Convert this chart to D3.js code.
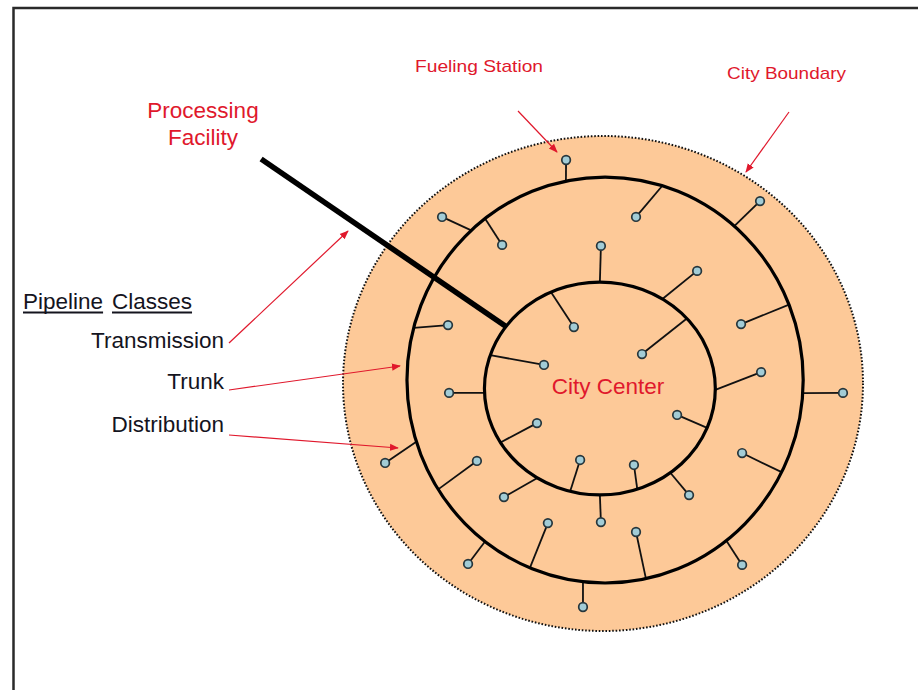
<!DOCTYPE html>
<html>
<head>
<meta charset="utf-8">
<script src="https://cdn.jsdelivr.net/npm/d3@7"></script>
<style>
body { margin: 0; background: #fff; }
svg text { font-family: "Liberation Sans", Arial, sans-serif; }
</style>
</head>
<body>
<svg id="chart" width="918" height="690"></svg>
<script>
// map units: city boundary radius = 100, north is up
let ringNames = ["boundary", "trunk", "inner"]
let ringCx = [0, 0.8, -1.2]
let ringCy = [0, 1.4, -2.0]
let ringRx = [100, 76.2, 44.4]
let ringRy = [100, 82.0, 43.0]

// fueling stations: ring the spoke joins (1 trunk, 2 inner), angle on that ring, station position
let stationRing = [1, 1, 1, 1, 1, 1, 1, 1, 1, 1, 1, 2, 1, 1, 2, 2, 2, 1, 2, 1, 2, 1, 2, 2, 2, 2, 2, 2, 2, 2]
let stationAngle = [101.4, 49.3, 132.5, -3.7, 197.7, 232.7, 263.6, 307.7, 127.3, 165.1, 21.8, -0.8, 333, 73.2, 90, 57.2, 182.4, 212.6, 237.2, 247.7, 270, 281.9, 307.6, 115.1, 41.1, 161.8, 210.5, 255.1, 288.9, 338.3]
let stationX = [-14.2, 60.4, -61.9, 92.3, -83.8, -51.9, -7.7, 53.5, -38.8, -59.6, 53.1, 60.8, 53.5, 12.7, -0.8, 36.2, -59.2, -48.5, -38.1, -21.2, -0.8, 12.7, 33.1, -11.2, 15.0, -22.7, -25.4, -8.8, 11.9, 28.5]
let stationY = [90.3, 73.7, 67.3, -3.8, -32.1, -72.9, -90.3, -73.3, 56.0, 23.6, 24.0, 4.6, -28.1, 67.3, 55.6, 45.5, -3.8, -31.3, -45.9, -56.4, -56.0, -60.0, -45.1, 22.8, 11.9, 7.5, -16.0, -30.9, -32.9, -12.7]

// transmission main from the processing facility to the inner ring
let transmissionFrom = [-131.5, 90.7]
let transmissionAngle = 144.4

let labelText = ["Fueling Station", "City Boundary", "Transmission", "Trunk", "Distribution"]

let svg = d3.select("#chart")
let x = d3.scaleLinear().domain([-100, 100]).range([343, 863])
let y = d3.scaleLinear().domain([100, -100]).range([136, 631])
let ringPoint = (ri, deg) => {
    let a = deg * Math.PI / 180
    return [x(ringCx[ri] + ringRx[ri] * Math.cos(a)), y(ringCy[ri] + ringRy[ri] * Math.sin(a))]
}

// frame
svg.append("path").attr("d", "M13.5,690 V8 H918")
    .attr("fill", "none").attr("stroke", "#2a2a2a").attr("stroke-width", 2.5)

let rings = ringNames.map((n, i) => ({ name: n, cx: ringCx[i], cy: ringCy[i], rx: ringRx[i], ry: ringRy[i] }))

// city boundary
svg.append("ellipse").datum(rings[0])
    .attr("cx", d => x(d.cx)).attr("cy", d => y(d.cy))
    .attr("rx", d => x(d.rx) - x(0)).attr("ry", d => y(0) - y(d.ry))
    .attr("fill", "#fdc998").attr("stroke", "#111")
    .attr("stroke-width", 2).attr("stroke-dasharray", "1.6,1.8")

let stations = stationRing.map((r, i) => {
    let p = ringPoint(r, stationAngle[i])
    return { ring: r, ax: p[0], ay: p[1], sx: x(stationX[i]), sy: y(stationY[i]) }
})

// distribution spokes
svg.selectAll(".spoke").data(stations).enter().append("line")
    .attr("class", "spoke")
    .attr("x1", d => d.ax).attr("y1", d => d.ay)
    .attr("x2", d => d.sx).attr("y2", d => d.sy)
    .attr("stroke", "#111").attr("stroke-width", 1.8)

// trunk + inner rings
svg.selectAll(".ring").data(rings.slice(1)).enter().append("ellipse")
    .attr("class", "ring")
    .attr("cx", d => x(d.cx)).attr("cy", d => y(d.cy))
    .attr("rx", d => x(d.rx) - x(0)).attr("ry", d => y(0) - y(d.ry))
    .attr("fill", "none").attr("stroke", "#000").attr("stroke-width", 3.2)

// transmission line
let tEnd = ringPoint(2, transmissionAngle)
svg.append("line")
    .attr("x1", x(transmissionFrom[0])).attr("y1", y(transmissionFrom[1]))
    .attr("x2", tEnd[0]).attr("y2", tEnd[1])
    .attr("stroke", "#000").attr("stroke-width", 5.5)

// fueling stations
svg.selectAll(".station").data(stations).enter().append("circle")
    .attr("class", "station")
    .attr("cx", d => d.sx).attr("cy", d => d.sy).attr("r", 4.3)
    .attr("fill", "#a2ccd6").attr("stroke", "#26363c").attr("stroke-width", 1.7)

// red annotation arrows
let red = "#e0182c"
svg.append("defs").append("marker")
    .attr("id", "head").attr("viewBox", "0 0 10 10")
    .attr("refX", 9).attr("refY", 5)
    .attr("markerWidth", 9).attr("markerHeight", 9)
    .attr("markerUnits", "userSpaceOnUse").attr("orient", "auto")
    .append("path").attr("d", "M0,1 L10,5 L0,9 Z").attr("fill", red)

let arrows = [
    [518, 111, 557, 152],
    [789, 112, 746, 172],
    [229, 343, 348, 231],
    [229, 390, 400, 366],
    [229, 435, 398, 448]
]
svg.selectAll(".arrow").data(arrows).enter().append("line")
    .attr("class", "arrow")
    .attr("x1", d => d[0]).attr("y1", d => d[1])
    .attr("x2", d => d[2]).attr("y2", d => d[3])
    .attr("stroke", red).attr("stroke-width", 1.2)
    .attr("marker-end", "url(#head)")

// labels
let narrow = "'Liberation Sans Narrow', 'Arial Narrow', 'Liberation Sans', sans-serif"
svg.append("text").text(labelText[0]).attr("x", 415).attr("y", 72)
    .attr("font-family", narrow).attr("font-size", 17).attr("fill", red)
    .attr("textLength", 128).attr("lengthAdjust", "spacingAndGlyphs")
svg.append("text").text(labelText[1]).attr("x", 727).attr("y", 79)
    .attr("font-family", narrow).attr("font-size", 17).attr("fill", red)
    .attr("textLength", 119).attr("lengthAdjust", "spacingAndGlyphs")

svg.append("text").text("Processing").attr("x", 203).attr("y", 118)
    .attr("text-anchor", "middle").attr("font-size", 22.5).attr("fill", red)
svg.append("text").text("Facility").attr("x", 203).attr("y", 145)
    .attr("text-anchor", "middle").attr("font-size", 22.5).attr("fill", red)
svg.append("text").text("City Center").attr("x", 608).attr("y", 394)
    .attr("text-anchor", "middle").attr("font-size", 22.5).attr("fill", red)

// legend
let ink = "#14141e"
let heads = [["Pipeline", 23], ["Classes", 112]]
heads.forEach(h => {
    let t = svg.append("text").text(h[0]).attr("x", h[1]).attr("y", 309)
        .attr("font-size", 22.5).attr("fill", ink)
    let w = t.node().getComputedTextLength()
    svg.append("line").attr("x1", h[1]).attr("x2", h[1] + w)
        .attr("y1", 312.5).attr("y2", 312.5)
        .attr("stroke", ink).attr("stroke-width", 2)
})
let legendY = [348, 389, 432]
svg.selectAll(".cls").data(labelText.slice(2)).enter().append("text")
    .attr("class", "cls")
    .attr("x", 224).attr("y", (d, i) => legendY[i])
    .attr("text-anchor", "end").attr("font-size", 22.5).attr("fill", ink)
    .text(d => d)
</script>
</body>
</html>
